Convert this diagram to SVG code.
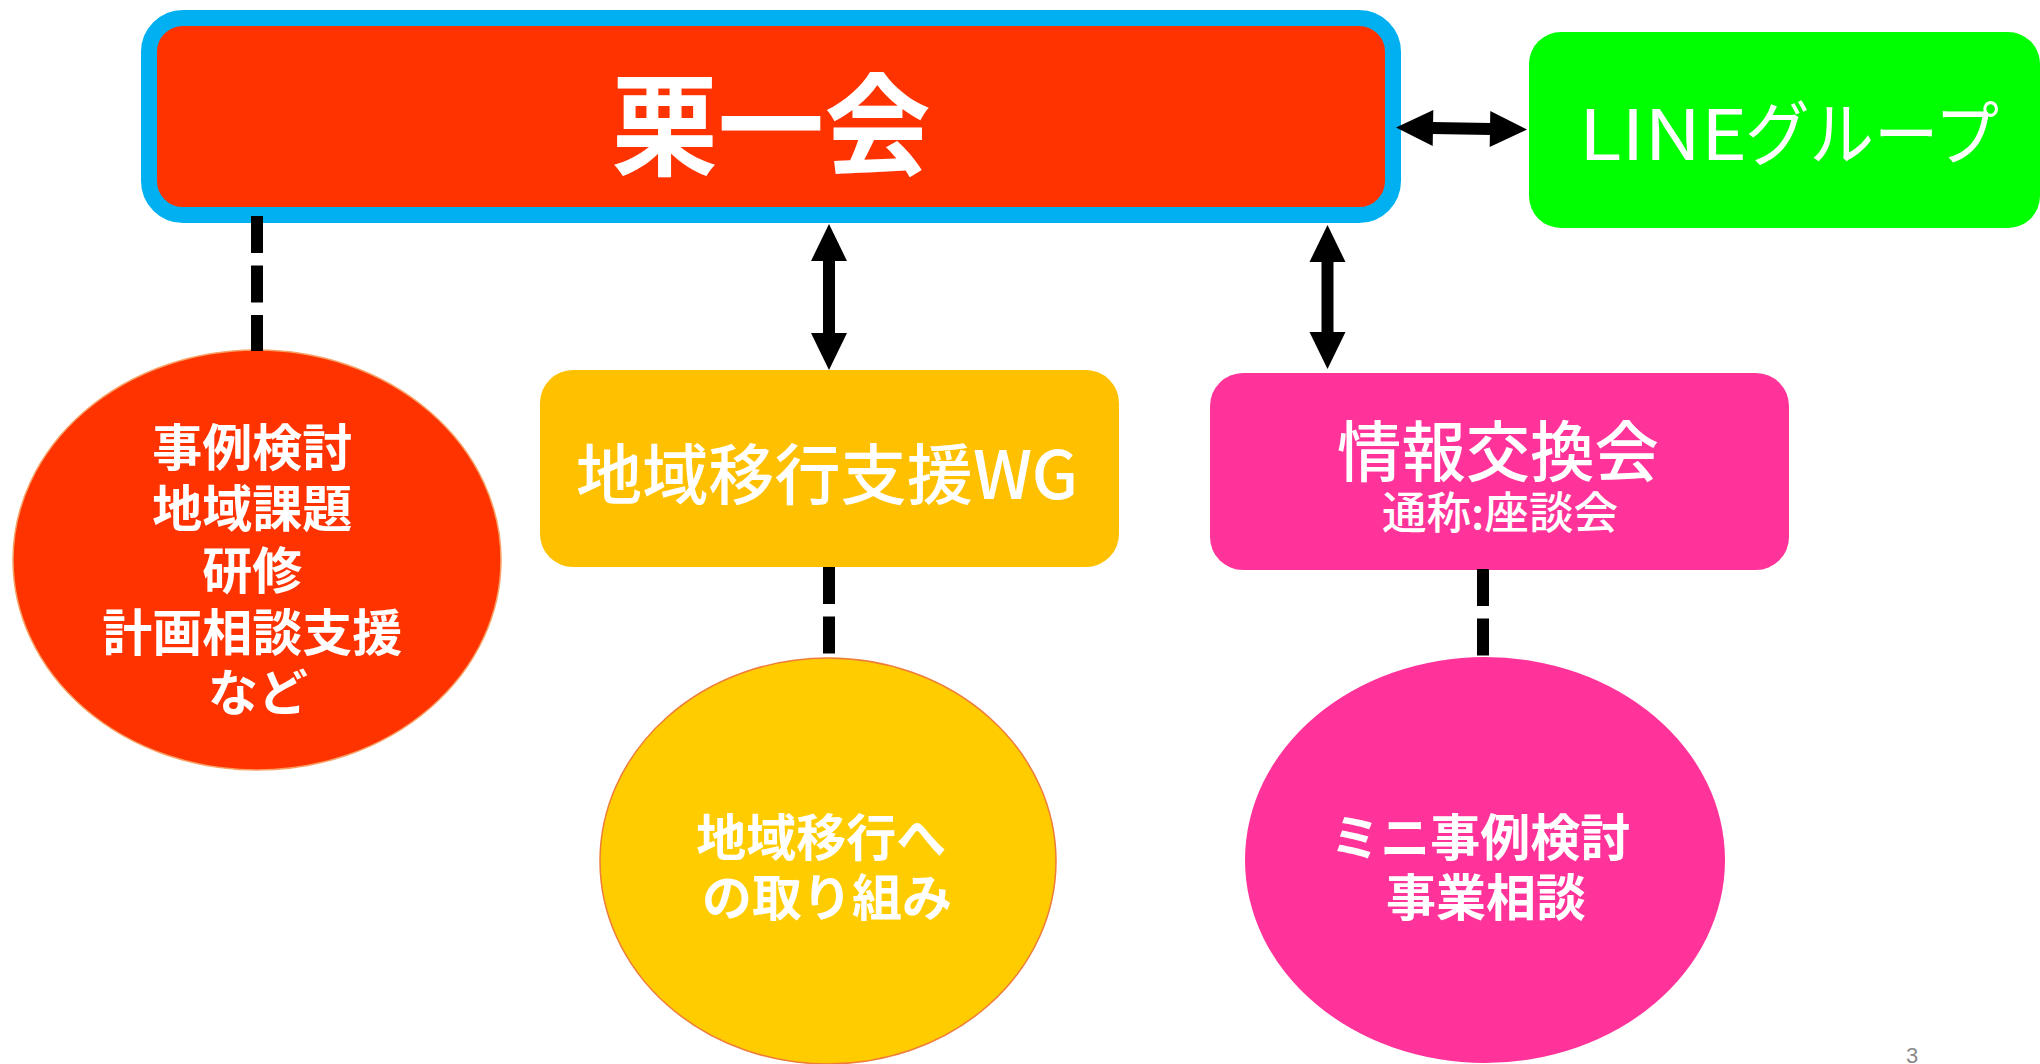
<svg xmlns="http://www.w3.org/2000/svg" width="2040" height="1064" viewBox="0 0 2040 1064">
<style>
text{font-family:"Noto Sans CJK JP","Noto Sans CJK SC",sans-serif;fill:#fff;text-anchor:middle}
.b{font-weight:700}
.m{font-weight:500}
.con{stroke:#000;stroke-width:12;fill:none}
.dash{stroke:#000;stroke-width:12;fill:none;stroke-dasharray:37 12.5}
</style>
<defs>
<marker id="ah" markerUnits="userSpaceOnUse" markerWidth="40" markerHeight="40" viewBox="0 -20 40 40" refX="1" refY="0" orient="auto-start-reverse" overflow="visible">
<path d="M0,-18 L37,0 L0,18 Z" fill="#000"/>
</marker>
</defs>
<rect width="2040" height="1064" fill="#fff"/>
<g id="nodes">
<g id="kuriichikai">
<rect x="149" y="18" width="1244" height="197" rx="34" fill="#FF3300" stroke="#00B0F0" stroke-width="16"/>
<text class="b" x="771" y="167" font-size="111" textLength="319" lengthAdjust="spacingAndGlyphs">栗一会</text>
</g>
<g id="line-group">
<rect x="1529" y="32" width="511" height="196" rx="32" fill="#00FF00"/>
<text y="160" font-size="70" style="text-anchor:start"><tspan x="1579" textLength="168" lengthAdjust="spacingAndGlyphs">LINE</tspan><tspan x="1745" textLength="254" lengthAdjust="spacingAndGlyphs">グループ</tspan></text>
</g>
<g id="wg">
<rect x="540" y="370" width="579" height="197" rx="33" fill="#FFC000"/>
<text class="m" x="827" y="499" font-size="66" textLength="502" lengthAdjust="spacingAndGlyphs">地域移行支援WG</text>
</g>
<g id="jouhou">
<rect x="1210" y="373" width="579" height="197" rx="33" fill="#FF3399"/>
<text class="m" x="1498" y="476" font-size="66" textLength="322" lengthAdjust="spacingAndGlyphs">情報交換会</text>
<text class="m" x="1500" y="529" font-size="44" textLength="236" lengthAdjust="spacingAndGlyphs">通称:座談会</text>
</g>
<g id="kuri-activities">
<ellipse cx="257" cy="560" rx="244" ry="210" fill="#FF3300" stroke="#F7A064" stroke-width="1.5"/>
<text class="b" font-size="50">
<tspan x="258" y="466">事例検討</tspan>
<tspan x="258" y="527">地域課題</tspan>
<tspan x="258" y="589">研修</tspan>
<tspan x="258" y="651">計画相談支援</tspan>
<tspan x="258" y="711">など</tspan>
</text>
</g>
<g id="wg-activities">
<ellipse cx="828" cy="861" rx="228" ry="203" fill="#FFCC00" stroke="#EE7C3A" stroke-width="1.5"/>
<text class="b" font-size="50">
<tspan x="827" y="856">地域移行へ</tspan>
<tspan x="827" y="916">の取り組み</tspan>
</text>
</g>
<g id="jouhou-activities">
<ellipse cx="1485" cy="860" rx="240" ry="203" fill="#FF3399"/>
<text class="b" font-size="50">
<tspan x="1486" y="856">ミニ事例検討</tspan>
<tspan x="1486" y="916">事業相談</tspan>
</text>
</g>
</g>
<g id="connectors">
<path class="con" d="M1432,128 L1491,129" marker-start="url(#ah)" marker-end="url(#ah)"/>
<path class="con" d="M829,260 L829,334" marker-start="url(#ah)" marker-end="url(#ah)"/>
<path class="con" d="M1327.5,261 L1327.5,333" marker-start="url(#ah)" marker-end="url(#ah)"/>
<path class="dash" d="M257,216 L257,351"/>
<path class="dash" d="M829,567 L829,657"/>
<path class="dash" d="M1483,569 L1483,657"/>
</g>
<text x="1912" y="1063" font-size="22" style="fill:#8a8a8a;font-family:'Liberation Sans',sans-serif">3</text>
</svg>
